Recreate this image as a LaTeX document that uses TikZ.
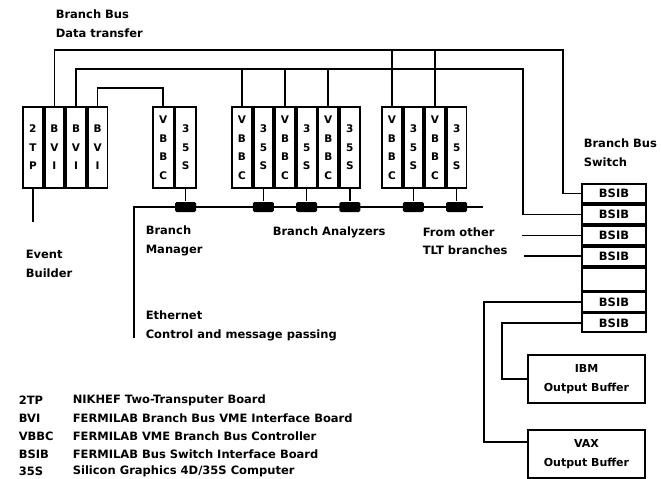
\documentclass[tikz,border=0pt]{standalone}
\usepackage{fontspec}
\setmainfont{DejaVu Sans}
\usetikzlibrary{positioning}

\newcommand{\lblfont}{\fontsize{11.5}{18.5}\selectfont\bfseries}
\newcommand{\brdfont}{\fontsize{10.5}{18.5}\selectfont\bfseries}
\newcommand{\buffont}{\fontsize{11}{19}\selectfont\bfseries}

\tikzset{
  board/.style={draw, line width=1.9pt, minimum width=19.7pt, minimum height=81pt, inner sep=0pt, align=center, font=\brdfont},
  tap/.style={fill=black, minimum width=21pt, minimum height=10pt, inner sep=0pt, rounded corners=1.5pt},
  bsib/.style={draw, line width=1.9pt, minimum width=64pt, minimum height=19pt, inner sep=0pt, font=\lblfont},
  outbuf/.style={draw, line width=1.9pt, minimum width=117pt, minimum height=48pt, inner sep=0pt, align=center, font=\buffont},
  lbl/.style={anchor=west, inner sep=0pt, align=left, font=\lblfont}
}

\begin{document}
\begin{tikzpicture}[x=1pt,y=-1pt,line width=1.6pt]
\useasboundingbox (0,0) rectangle (661,479);

\node[board] (tp) at (32.85,147.5) {2\\T\\P};
\node[board,right=0pt of tp] (bviA) {B\\V\\I};
\node[board,right=0pt of bviA] (bviB) {B\\V\\I};
\node[board,right=0pt of bviB] (bviC) {B\\V\\I};

\node[board,minimum width=20.5pt] (mvbbc) at (163.25,147.5) {V\\B\\B\\C};
\node[board,minimum width=20.5pt,right=0pt of mvbbc] (mss) {3\\5\\S};

\node[board] (avbbcA) at (241.85,147.5) {V\\B\\B\\C};
\node[board,right=0pt of avbbcA] (assA) {3\\5\\S};
\node[board,right=0pt of assA] (avbbcB) {V\\B\\B\\C};
\node[board,right=0pt of avbbcB] (assB) {3\\5\\S};
\node[board,right=0pt of assB] (avbbcC) {V\\B\\B\\C};
\node[board,right=0pt of avbbcC] (assC) {3\\5\\S};

\node[board] (bvbbcA) at (391.85,147.5) {V\\B\\B\\C};
\node[board,right=0pt of bvbbcA] (bssA) {3\\5\\S};
\node[board,right=0pt of bssA] (bvbbcB) {V\\B\\B\\C};
\node[board,right=0pt of bvbbcB] (bssB) {3\\5\\S};

\node[bsib] (bsibA) at (614,193.5) {BSIB};
\node[bsib,below=0pt of bsibA] (bsibB) {BSIB};
\node[bsib,below=0pt of bsibB] (bsibC) {BSIB};
\node[bsib,below=0pt of bsibC] (bsibD) {BSIB};
\node[bsib,below=0pt of bsibD,minimum height=23pt] (bsibgap) {};
\node[bsib,below=0pt of bsibgap] (bsibE) {BSIB};
\node[bsib,below=0pt of bsibE] (bsibF) {BSIB};

\node[outbuf] (ibm) at (586.5,379) {IBM\\Output Buffer};
\node[outbuf] (vax) at (586.5,454) {VAX\\Output Buffer};

\coordinate (busA) at (563,50);
\coordinate (busB) at (523,69);
\coordinate (busC) at (120,88);
\draw (bviA.north) |- (busA) |- (bsibA.west);
\draw (bviB.north) |- (busB) |- (bsibB.west);
\draw (bviC.north) |- (busC) -| (mvbbc.north);
\foreach \n in {avbbcA,avbbcB,avbbcC} \draw (\n.north) -- (\n.north |- busB);
\foreach \n in {bvbbcA,bvbbcB} \draw (\n.north) -- (\n.north |- busA);

\coordinate (ethL) at (134,207);
\coordinate (ethR) at (483,207);
\coordinate (ethD) at (134,338);
\draw (ethD) -- (ethL) -- (ethR);
\foreach \n in {mss,assA,assB,assC,bssA,bssB} {
  \node[tap] (t\n) at (\n.south |- ethL) {};
  \draw (\n.south) -- (t\n);
}

\coordinate (ebout) at (32.85,222);
\draw (tp.south) -- (ebout);

\draw (bsibC.west) -- ++(-59,0);
\draw (bsibD.west) -- ++(-57,0);
\draw (bsibF.west) -- ++(-79,0) |- (ibm.west);
\draw (bsibE.west) -- ++(-97,0) |- ([yshift=12pt]vax.west);

\node[lbl] (lbus) at (55,23.5) {Branch Bus\\Data transfer};
\node[lbl] (lswitch) at (583,152.5) {Branch Bus\\Switch};
\node[lbl] (lmanager) at (145,241) {Branch\\Manager};
\node[lbl] (lanalyzer) at (272,232) {Branch Analyzers};
\node[lbl] (lother) at (422,241) {From other\\TLT branches};
\node[lbl] (lbuilder) at (25,264) {Event\\Builder};
\node[lbl] (lether) at (145,326) {Ethernet\\Control and message passing};

\foreach \y/\ab/\txt [count=\i] in {400/2TP/{NIKHEF Two-Transputer Board},
    418/BVI/{FERMILAB Branch Bus VME Interface Board},
    436/VBBC/{FERMILAB VME Branch Bus Controller},
    454/BSIB/{FERMILAB Bus Switch Interface Board},
    471/35S/{Silicon Graphics 4D/35S Computer}} {
  \node[lbl] (ab\i) at (18,\y) {\ab};
  \node[lbl] (ds\i) at (72,\y) {\txt};
}
\end{tikzpicture}
\end{document}
